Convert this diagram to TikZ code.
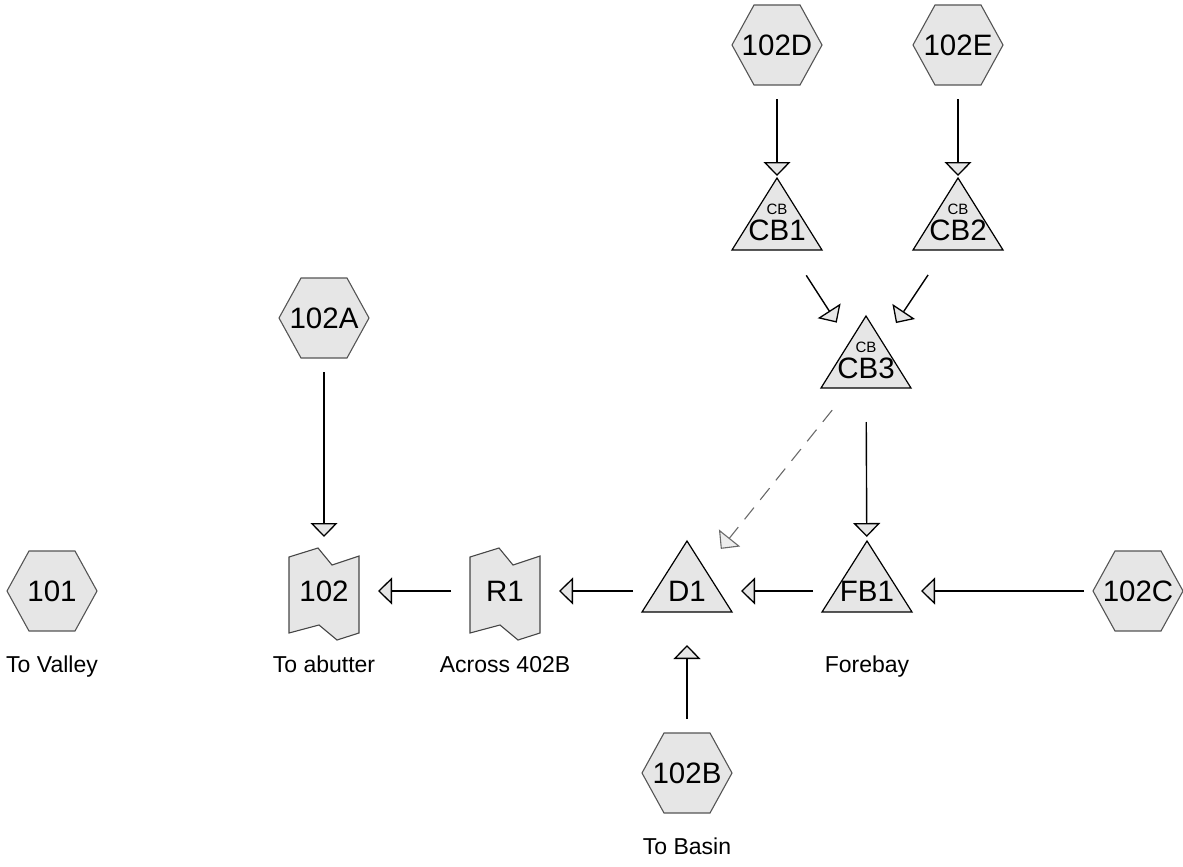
\documentclass[tikz,border=0pt]{standalone}
\usepackage{fontspec}
\setmainfont{Liberation Sans}
\usetikzlibrary{arrows.meta,backgrounds,calc}
\definecolor{shapefill}{RGB}{230,230,230}
\definecolor{hexline}{RGB}{85,85,85}
\definecolor{reachline}{RGB}{70,70,70}
\definecolor{dashline}{RGB}{105,105,105}
\newcommand\mainfnt{\fontsize{29.5}{33}\selectfont}
\newcommand\lblfnt{\fontsize{23}{26}\selectfont}
\newcommand\tagfnt{\fontsize{15}{17}\selectfont}
\begin{document}
\begin{tikzpicture}[x=1pt,y=-1pt,
  txtnode/.style={inner sep=0pt, font=\mainfnt},
  tagnode/.style={inner sep=0pt, font=\tagfnt},
  lbl/.style={anchor=base, inner sep=0pt, font=\lblfnt},
  hexshape/.style={draw=hexline, fill=shapefill, line width=1.1pt, line join=miter},
  trishape/.style={draw=black, fill=shapefill, line width=1.2pt, line join=miter},
  reachshape/.style={draw=reachline, fill=shapefill, line width=1.1pt, line join=miter},
  flow/.style={draw=black, line width=1.4pt, shorten <=54pt, shorten >=54pt,
    -{Triangle[length=14pt,width=27pt,fill=shapefill,line width=1.3pt]}},
  dashflow/.style={draw=dashline, line width=1.1pt, shorten <=54pt, shorten >=54pt,
    dash pattern=on 15pt off 10pt,
    -{Triangle[length=14pt,width=27pt,fill=shapefill!70!white,line width=1.1pt]}}
]
\useasboundingbox (0,0) rectangle (1183,867);

% hexagon inflow nodes (text centres)
\node[txtnode] (h102D) at (777,45) {102D};
\node[txtnode] (h102E) at (958,45) {102E};
\node[txtnode] (h102A) at (324,318) {102A};
\node[txtnode] (h101) at (52,591) {101};
\node[txtnode] (h102C) at (1138,591) {102C};
\node[txtnode] (h102B) at (687,773) {102B};

% triangle nodes (text centres)
\node[txtnode] (CB1) at (777,230) {CB1};
\node[txtnode] (CB2) at (958,230) {CB2};
\node[txtnode] (CB3) at (866,368) {CB3};
\node[txtnode] (D1) at (687,591) {D1};
\node[txtnode] (FB1) at (867,591) {FB1};
\node[tagnode] (CB1tag) at ($(CB1)+(0,-21)$) {CB};
\node[tagnode] (CB2tag) at ($(CB2)+(0,-21)$) {CB};
\node[tagnode] (CB3tag) at ($(CB3)+(0,-21)$) {CB};

% reach nodes
\node[txtnode] (r102) at (324,591) {102};
\node[txtnode] (R1) at (505,591) {R1};

% outlines behind the texts
\begin{scope}[on background layer]
  \foreach \n in {h102D,h102E,h102A,h101,h102C,h102B}
    \path[hexshape] ($(\n)+(-45,0)$) -- ($(\n)+(-23,-40)$) -- ($(\n)+(23,-40)$)
      -- ($(\n)+(45,0)$) -- ($(\n)+(23,40)$) -- ($(\n)+(-23,40)$) -- cycle;
  \foreach \n in {CB1,CB2,CB3}
    \path[trishape] ($(\n)+(0,-52)$) -- ($(\n)+(45,20)$) -- ($(\n)+(-45,20)$) -- cycle;
  \foreach \n in {D1,FB1}
    \path[trishape] ($(\n)+(0,-50)$) -- ($(\n)+(45,21)$) -- ($(\n)+(-45,21)$) -- cycle;
  \foreach \n in {r102,R1}
    \path[reachshape] ($(\n)+(-35,-34)$) -- ($(\n)+(-6,-43)$) -- ($(\n)+(8,-26)$)
      -- ($(\n)+(35,-35)$) -- ($(\n)+(35,42)$) -- ($(\n)+(13,49)$)
      -- ($(\n)+(-5,34)$) -- ($(\n)+(-35,42)$) -- cycle;
\end{scope}

% labels
\node[lbl] (lab101) at (52,672) {To Valley};
\node[lbl] (lab102) at (324,672) {To abutter};
\node[lbl] (labR1) at (505,672) {Across 402B};
\node[lbl] (labFB1) at (867,672) {Forebay};
\node[lbl] (lab102B) at (687,854) {To Basin};

% connectors
\draw[flow] (h102D.center) -- (CB1.center);
\draw[flow] (h102E.center) -- (CB2.center);
\draw[flow] (CB1.center) -- (CB3.center);
\draw[flow] (CB2.center) -- (CB3.center);
\draw[flow] (CB3.center) -- (FB1.center);
\draw[dashflow] (CB3.center) -- (D1.center);
\draw[flow] (h102C.center) -- (FB1.center);
\draw[flow] (FB1.center) -- (D1.center);
\draw[flow] (h102B.center) -- (D1.center);
\draw[flow] (D1.center) -- (R1.center);
\draw[flow] (R1.center) -- (r102.center);
\draw[flow] (h102A.center) -- (r102.center);
\end{tikzpicture}
\end{document}
